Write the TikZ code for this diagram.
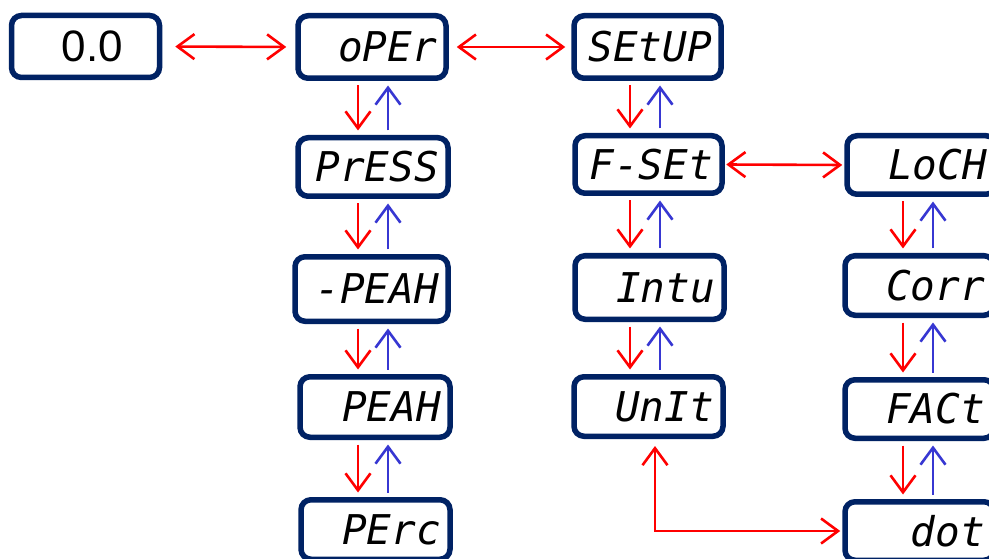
\documentclass[tikz,border=0pt]{standalone}
\usepackage{fontspec}
\newfontfamily\segfont{DejaVu Sans Mono}
\newfontfamily\zerofont{Liberation Sans}
\usetikzlibrary{arrows.meta}
\definecolor{navy}{RGB}{0,34,100}
\definecolor{arrred}{RGB}{255,0,0}
\definecolor{arrblue}{RGB}{55,55,210}
\begin{document}
\begin{tikzpicture}[x=1pt,y=-1pt,
  box/.style={draw=navy, line width=5.5pt, rounded corners=10pt, fill=white,
    inner xsep=9pt, inner ysep=0pt, align=right,
    font=\segfont\itshape\fontsize{41}{41}\selectfont},
  zbox/.style={box, align=center, font=\zerofont\fontsize{44}{44}\selectfont},
  tipb/.style={-{Straight Barb[length=17pt,width=25pt]}},
  ra/.style={draw=arrred, line width=2.6pt, tipb, shorten <=4.5pt, shorten >=4.5pt},
  ba/.style={draw=arrblue, line width=2.6pt, tipb, shorten <=4.5pt, shorten >=4.5pt},
  rb/.style={draw=arrred, line width=2.6pt, {Straight Barb[length=17pt,width=25pt]}-{Straight Barb[length=17pt,width=25pt]}}
]
\useasboundingbox (0,0) rectangle (989,559);
\fill[white] (0,0) rectangle (989,559);

% boxes
\node[zbox, text width=130pt, minimum height=62pt] (z) at (85.5,46.5) {\hspace*{14pt}0.0};
\node[box, text width=130pt, minimum height=62.5pt] (oper) at (372,47) {oPEr};
\node[box, text width=129pt, minimum height=62.5pt] (setup) at (647.5,47) {SEtUP};
\node[box, text width=132pt, minimum height=58.5pt] (press) at (373,167) {PrESS};
\node[box, text width=135pt, minimum height=64.5pt] (mpeak) at (371.5,289) {-PEAH};
\node[box, text width=132pt, minimum height=60.5pt] (peak) at (375,407) {PEAH};
\node[box, text width=131pt, minimum height=59.5pt] (perc) at (375.5,529.5) {PErc};
\node[box, text width=129pt, minimum height=57.5pt] (fset) at (648.5,164.5) {F-SEt};
\node[box, text width=131pt, minimum height=63.5pt] (intu) at (649.5,287.5) {Intu};
\node[box, text width=131pt, minimum height=59.5pt] (unit) at (648.5,406.5) {UnIt};
\node[box, text width=131pt, minimum height=58.5pt] (loch) at (921.5,165) {LoCH};
\node[box, text width=131pt, minimum height=59.5pt] (corr) at (919.5,285.5) {Corr};
\node[box, text width=131pt, minimum height=58.5pt] (fact) at (919.5,409) {FACt};
\node[box, text width=131pt, minimum height=58.5pt] (dot) at (919.5,531) {dot};

% column x positions
\coordinate (lr) at (358,0);
\coordinate (lb) at (388,0);
\coordinate (mr) at (630,0);
\coordinate (mb) at (660,0);
\coordinate (rr) at (903,0);
\coordinate (rbx) at (933,0);
\coordinate (ux) at (655,0);

% horizontal double arrows
\draw[rb, shorten <=13pt, shorten >=9pt] (z.east) -- (oper.west);
\draw[rb, shorten <=8pt, shorten >=6pt] (oper.east) -- (setup.west);
\draw[rb, shorten <=1.5pt, shorten >=2pt] (fset.east) -- (loch.west);
\draw[rb, shorten <=7pt, shorten >=2pt] (unit.south -| ux) |- (dot.west);

% left column
\draw[ra] (oper.south -| lr) -- (press.north -| lr);
\draw[ba] (press.north -| lb) -- (oper.south -| lb);
\draw[ra] (press.south -| lr) -- (mpeak.north -| lr);
\draw[ba] (mpeak.north -| lb) -- (press.south -| lb);
\draw[ra] (mpeak.south -| lr) -- (peak.north -| lr);
\draw[ba] (peak.north -| lb) -- (mpeak.south -| lb);
\draw[ra] (peak.south -| lr) -- (perc.north -| lr);
\draw[ba] (perc.north -| lb) -- (peak.south -| lb);

% middle column
\draw[ra] (setup.south -| mr) -- (fset.north -| mr);
\draw[ba] (fset.north -| mb) -- (setup.south -| mb);
\draw[ra] (fset.south -| mr) -- (intu.north -| mr);
\draw[ba] (intu.north -| mb) -- (fset.south -| mb);
\draw[ra] (intu.south -| mr) -- (unit.north -| mr);
\draw[ba] (unit.north -| mb) -- (intu.south -| mb);

% right column
\draw[ra] (loch.south -| rr) -- (corr.north -| rr);
\draw[ba] (corr.north -| rbx) -- (loch.south -| rbx);
\draw[ra] (corr.south -| rr) -- (fact.north -| rr);
\draw[ba] (fact.north -| rbx) -- (corr.south -| rbx);
\draw[ra] (fact.south -| rr) -- (dot.north -| rr);
\draw[ba] (dot.north -| rbx) -- (fact.south -| rbx);
\end{tikzpicture}
\end{document}
